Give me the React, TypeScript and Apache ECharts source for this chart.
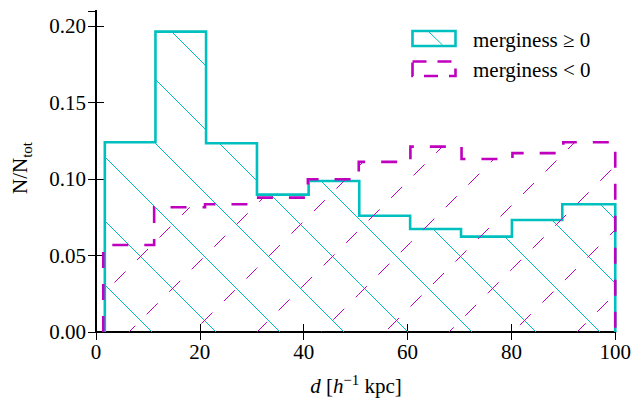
import React, { useEffect, useRef } from "react";
import * as echarts from "echarts";

// Bin edges (d in h^-1 kpc) and normalised counts N/N_tot
const edgesPos = [1.7, 11.45, 21.2, 31.0, 40.95, 50.7, 60.5, 70.3, 80.1, 89.8, 100];
const valuesPos = [0.1241, 0.1965, 0.1235, 0.0899, 0.0988, 0.0761, 0.0674, 0.0624, 0.0733, 0.0836];
const edgesNeg = [1.4, 11.2, 21.0, 30.9, 40.8, 50.6, 60.55, 70.4, 80.2, 90.0, 100];
const valuesNeg = [0.0569, 0.0816, 0.0836, 0.0879, 0.0999, 0.1113, 0.1213, 0.1132, 0.117, 0.1241];

const xTicks = [0, 20, 40, 60, 80, 100];
const yTicks = [0.0, 0.05, 0.1, 0.15, 0.2];

const labelPos = "merginess ≥ 0";
const labelNeg = "merginess < 0";

const CYAN = "#00BFBF";
const MAGENTA = "#BF00BF";
const FONT = "Liberation Serif, Times New Roman, serif";
const FS = 21;

// a shape made of many separate straight segments (hatch texture)
const HatchSegs = echarts.graphic.extendShape({
  shape: { segs: [] as number[] },
  buildPath(ctx: any, shape: any) {
    const s = shape.segs || [];
    for (let i = 0; i + 3 < s.length; i += 4) {
      ctx.moveTo(s[i], s[i + 1]);
      ctx.lineTo(s[i + 2], s[i + 3]);
    }
  },
});
echarts.graphic.registerShape("hatchSegs", HatchSegs);

function binsOf(edges: number[], vals: number[]) {
  return vals.map((v, i) => [edges[i], edges[i + 1], v]);
}
function outlineOf(edges: number[], vals: number[]) {
  const pts: number[][] = [[edges[0], 0]];
  vals.forEach((v, i) => {
    pts.push([edges[i], v]);
    pts.push([edges[i + 1], v]);
  });
  pts.push([edges[edges.length - 1], 0]);
  return pts;
}

function hatchRenderer(kind: "back" | "fwd", color: string) {
  return (params: any, api: any) => {
    const lo = api.value(0);
    const hi = api.value(1);
    const h = api.value(2);
    const p0 = api.coord([lo, 0]);
    const p1 = api.coord([hi, h]);
    const L = p0[0], R = p1[0], T = p1[1], B = p0[1];
    const S = 64;
    const segs: number[] = [];
    const seg = (x1: number, y1: number, x2: number, y2: number) => segs.push(x1, y1, x2, y2);
    if (kind === "back") {
      const b0 = -76;
      const kMin = Math.ceil((b0 - (B - L)) / S);
      const kMax = Math.floor((b0 - (T - R)) / S);
      for (let k = kMin; k <= kMax; k++) {
        const b = b0 - k * S;
        const xs = Math.max(L, T - b);
        const xe = Math.min(R, B - b);
        if (xe > xs) seg(xs, xs + b, xe, xe + b);
      }
    } else {
      const c0 = 717;
      const kMin = Math.ceil((T + L - c0) / S);
      const kMax = Math.floor((B + R - c0) / S);
      const P = 22.5, D = 11;
      for (let k = kMin; k <= kMax; k++) {
        const c = c0 + k * S;
        const xs = Math.max(L, c - B);
        const xe = Math.min(R, c - T);
        if (xe <= xs) continue;
        const phase = 433 + 9.7 * k;
        let x = phase + Math.floor((xs - phase) / P) * P;
        for (; x < xe; x += P) {
          const a = Math.max(x, xs);
          const e = Math.min(x + D, xe);
          if (e > a) seg(a, c - a, e, c - e);
        }
      }
    }
    return {
      type: "hatchSegs",
      shape: { segs },
      style: { stroke: color, fill: "none", lineWidth: 1 },
    };
  };
}

export default function App() {
  const ref = useRef<HTMLDivElement>(null);
  useEffect(() => {
    document.body.style.margin = "0";
    const chart = echarts.init(ref.current!, null, { renderer: "svg" });
    const axisCommon = {
      type: "value" as const,
      axisLine: { show: true, lineStyle: { color: "#000", width: 2 } },
      axisTick: { show: true, inside: true, length: 8, lineStyle: { color: "#000", width: 1 } },
      splitLine: { show: false },
    };
    const labelStyle = { color: "#000", fontFamily: FONT, fontSize: FS };
    chart.setOption({
      animation: false,
      grid: { left: 96, right: 18, top: 11, bottom: 67 },
      xAxis: [
        {
          ...axisCommon,
          position: "bottom",
          min: xTicks[0],
          max: xTicks[xTicks.length - 1],
          interval: xTicks[1] - xTicks[0],
          axisLabel: { ...labelStyle, margin: 9 },
        },
        {
          ...axisCommon,
          position: "top",
          min: xTicks[0],
          max: xTicks[xTicks.length - 1],
          interval: xTicks[1] - xTicks[0],
          axisLabel: { show: false },
        },
      ],
      yAxis: [
        {
          ...axisCommon,
          position: "left",
          min: 0,
          max: 0.21,
          interval: yTicks[1] - yTicks[0],
          axisLabel: {
            ...labelStyle,
            margin: 10,
            showMaxLabel: false,
            formatter: (v: number) => v.toFixed(2),
          },
        },
        {
          ...axisCommon,
          position: "right",
          min: 0,
          max: 0.21,
          interval: yTicks[1] - yTicks[0],
          axisLabel: { show: false },
        },
      ],
      series: [
        {
          type: "custom",
          name: labelPos + " hatch",
          data: binsOf(edgesPos, valuesPos),
          encode: { x: [0, 1], y: 2 },
          renderItem: hatchRenderer("back", CYAN),
          itemStyle: { color: CYAN },
          silent: true,
          z: 2,
        },
        {
          type: "line",
          name: labelPos,
          data: outlineOf(edgesPos, valuesPos),
          showSymbol: false,
          symbol: "none",
          clip: false,
          silent: true,
          lineStyle: { color: CYAN, width: 2.6, join: "miter", cap: "butt" },
          z: 3,
        },
        {
          type: "custom",
          name: labelNeg + " hatch",
          data: binsOf(edgesNeg, valuesNeg),
          encode: { x: [0, 1], y: 2 },
          renderItem: hatchRenderer("fwd", MAGENTA),
          itemStyle: { color: MAGENTA },
          silent: true,
          z: 4,
        },
        {
          type: "line",
          name: labelNeg,
          data: outlineOf(edgesNeg, valuesNeg),
          showSymbol: false,
          symbol: "none",
          clip: false,
          silent: true,
          lineStyle: { color: MAGENTA, width: 2.6, type: [16, 16], join: "miter", cap: "butt" },
          z: 5,
        },
      ],
      graphic: [
        {
          type: "rect",
          shape: { x: 412.5, y: 31, width: 43, height: 15 },
          style: { fill: "#fff", stroke: CYAN, lineWidth: 2.6 },
          z: 10,
        },
        {
          type: "line",
          shape: { x1: 429, y1: 32, x2: 442.5, y2: 45 },
          style: { stroke: CYAN, lineWidth: 1 },
          z: 11,
        },
        {
          type: "rect",
          shape: { x: 412.5, y: 61.5, width: 43, height: 14.5 },
          style: { fill: "#fff", stroke: MAGENTA, lineWidth: 2.6, lineDash: [14, 11] },
          z: 10,
        },
        {
          type: "text",
          x: 473,
          y: 40,
          style: { text: labelPos, fill: "#000", fontFamily: FONT, fontSize: FS, align: "left", verticalAlign: "middle" },
          z: 10,
        },
        {
          type: "text",
          x: 473,
          y: 70,
          style: { text: labelNeg, fill: "#000", fontFamily: FONT, fontSize: FS, align: "left", verticalAlign: "middle" },
          z: 10,
        },
        {
          type: "text",
          x: 356,
          y: 386,
          style: {
            text: "{i|d} [{i|h}{sup|−1} kpc]",
            align: "center",
            verticalAlign: "middle",
            fill: "#000",
            rich: {
              i: { fontFamily: FONT, fontSize: FS, fontStyle: "italic", lineHeight: 28, verticalAlign: "middle", fill: "#000" },
              sup: { fontFamily: FONT, fontSize: 15, lineHeight: 15, verticalAlign: "top", fill: "#000" },
            },
            fontFamily: FONT,
            fontSize: FS,
            lineHeight: 28,
          },
        },
        {
          type: "text",
          x: 20,
          y: 168,
          rotation: Math.PI / 2,
          style: {
            text: "N/N{sub|tot}",
            align: "center",
            verticalAlign: "middle",
            fill: "#000",
            rich: {
              sub: { fontFamily: FONT, fontSize: 15, lineHeight: 15, verticalAlign: "bottom", fill: "#000" },
            },
            fontFamily: FONT,
            fontSize: FS,
            lineHeight: 28,
          },
        },
      ],
    });
    return () => chart.dispose();
  }, []);
  return <div ref={ref} style={{ width: 634, height: 399 }} />;
}
